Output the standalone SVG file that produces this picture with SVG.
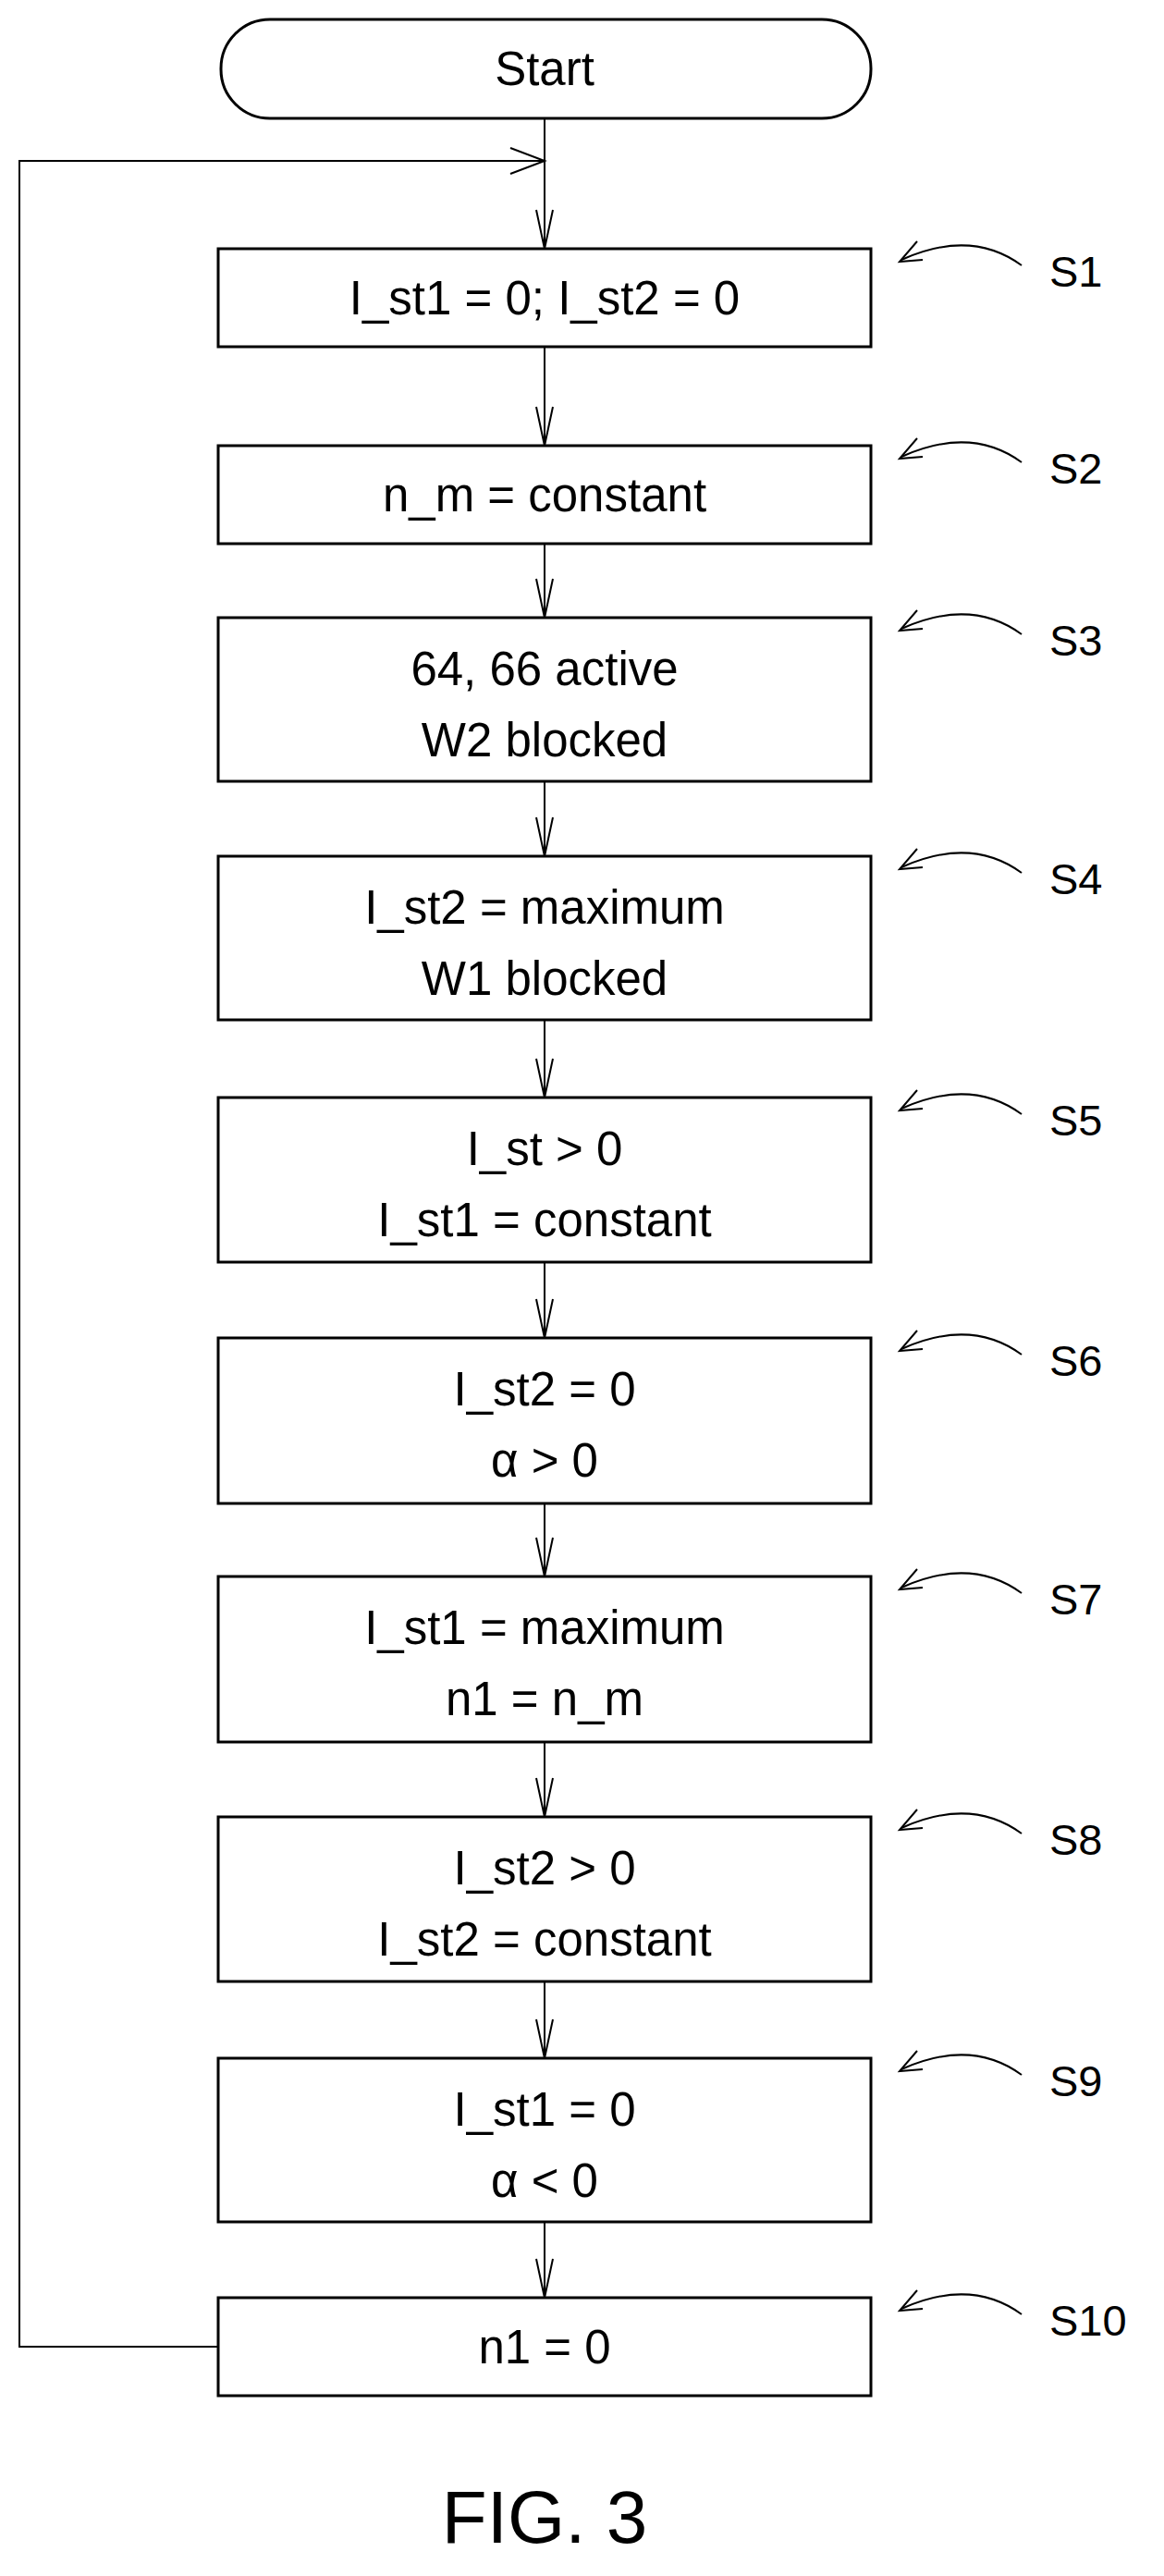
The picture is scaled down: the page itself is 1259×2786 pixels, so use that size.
<svg xmlns="http://www.w3.org/2000/svg" width="1259" height="2786" viewBox="0 0 1259 2786">
<style>
.b{fill:#fff;stroke:#000;stroke-width:3}
.l{fill:none;stroke:#000;stroke-width:2}
.t{font-family:"Liberation Sans",Arial,sans-serif;font-size:51px;text-anchor:middle}
.s{font-family:"Liberation Sans",Arial,sans-serif;font-size:47px}
</style>
<defs>
<path id="v" d="M-9,-42 L0,0 L9,-42" class="l"/>
<g id="lab"><path d="M1105,18 Q1050,-22 975,12" class="l"/><path d="M992,-8 L973,14 L998,12" class="l"/></g>
</defs>
<rect width="1259" height="2786" fill="#fff"/>
<g id="connectors">
<path class="l" d="M589,128 V269 M589,375 V482 M589,588 V668 M589,845 V926 M589,1103 V1187 M589,1365 V1447 M589,1626 V1705 M589,1884 V1965 M589,2143 V2226 M589,2403 V2485"/>
<path class="l" d="M236,2538 H21 V174 H589"/>
<path class="l" d="M552,160 L589,174 L552,188"/>
<use href="#v" x="589" y="269"/><use href="#v" x="589" y="482"/><use href="#v" x="589" y="668"/><use href="#v" x="589" y="926"/><use href="#v" x="589" y="1187"/><use href="#v" x="589" y="1447"/><use href="#v" x="589" y="1705"/><use href="#v" x="589" y="1965"/><use href="#v" x="589" y="2226"/><use href="#v" x="589" y="2485"/>
</g>
<g id="start"><rect class="b" x="239" y="21" width="703" height="107" rx="53"/><text class="t" x="589" y="92">Start</text></g>
<g id="S1"><rect class="b" x="236" y="269" width="706" height="106"/><text class="t" x="589" y="340">I_st1 = 0; I_st2 = 0</text><use href="#lab" y="269"/><text class="s" x="1135" y="310">S1</text></g>
<g id="S2"><rect class="b" x="236" y="482" width="706" height="106"/><text class="t" x="589" y="553">n_m = constant</text><use href="#lab" y="482"/><text class="s" x="1135" y="523">S2</text></g>
<g id="S3"><rect class="b" x="236" y="668" width="706" height="177"/><text class="t" x="589" y="741">64, 66 active</text><text class="t" x="589" y="818">W2 blocked</text><use href="#lab" y="668"/><text class="s" x="1135" y="709">S3</text></g>
<g id="S4"><rect class="b" x="236" y="926" width="706" height="177"/><text class="t" x="589" y="999">I_st2 = maximum</text><text class="t" x="589" y="1076">W1 blocked</text><use href="#lab" y="926"/><text class="s" x="1135" y="967">S4</text></g>
<g id="S5"><rect class="b" x="236" y="1187" width="706" height="178"/><text class="t" x="589" y="1260">I_st &gt; 0</text><text class="t" x="589" y="1337">I_st1 = constant</text><use href="#lab" y="1187"/><text class="s" x="1135" y="1228">S5</text></g>
<g id="S6"><rect class="b" x="236" y="1447" width="706" height="179"/><text class="t" x="589" y="1520">I_st2 = 0</text><text class="t" x="589" y="1597">α &gt; 0</text><use href="#lab" y="1447"/><text class="s" x="1135" y="1488">S6</text></g>
<g id="S7"><rect class="b" x="236" y="1705" width="706" height="179"/><text class="t" x="589" y="1778">I_st1 = maximum</text><text class="t" x="589" y="1855">n1 = n_m</text><use href="#lab" y="1705"/><text class="s" x="1135" y="1746">S7</text></g>
<g id="S8"><rect class="b" x="236" y="1965" width="706" height="178"/><text class="t" x="589" y="2038">I_st2 &gt; 0</text><text class="t" x="589" y="2115">I_st2 = constant</text><use href="#lab" y="1965"/><text class="s" x="1135" y="2006">S8</text></g>
<g id="S9"><rect class="b" x="236" y="2226" width="706" height="177"/><text class="t" x="589" y="2299">I_st1 = 0</text><text class="t" x="589" y="2376">α &lt; 0</text><use href="#lab" y="2226"/><text class="s" x="1135" y="2267">S9</text></g>
<g id="S10"><rect class="b" x="236" y="2485" width="706" height="106"/><text class="t" x="589" y="2556">n1 = 0</text><use href="#lab" y="2485"/><text class="s" x="1135" y="2526">S10</text></g>
<text x="589" y="2750" font-family="Liberation Sans,Arial,sans-serif" font-size="80" text-anchor="middle">FIG. 3</text>
</svg>
